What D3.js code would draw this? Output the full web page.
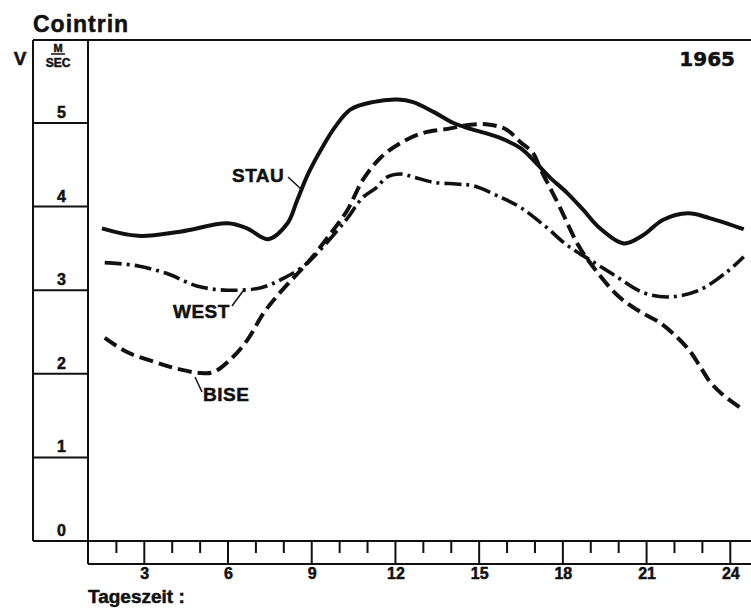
<!DOCTYPE html>
<html>
<head>
<meta charset="utf-8">
<script src="https://cdn.jsdelivr.net/npm/d3@7"></script>
<style>
  body { margin: 0; background: #fff; }
  svg { display: block; }
  text { font-family: "Liberation Sans", Arial, sans-serif; font-weight: bold; fill: #111; stroke: #111; stroke-width: 0.5px; }
</style>
</head>
<body>
<svg id="chart" width="751" height="608"></svg>
<script>
// mean wind speed (m/s) by time of day, Cointrin 1965
const stauHours = [1.5, 2.8, 4.3, 6.0, 6.7, 7.45, 8.15, 8.5, 8.9, 9.4, 9.85, 10.4, 11.2, 12.1, 12.65, 13.4, 14.1, 14.7, 15.7, 16.5, 16.95, 17.55, 18.15, 18.75, 19.35, 20.2, 20.9, 21.6, 22.5, 23.3, 24.5]
const stauValues = [3.74, 3.65, 3.70, 3.80, 3.74, 3.61, 3.80, 4.08, 4.40, 4.71, 4.95, 5.16, 5.25, 5.28, 5.25, 5.13, 5.00, 4.93, 4.83, 4.70, 4.56, 4.35, 4.17, 3.96, 3.74, 3.56, 3.66, 3.84, 3.92, 3.86, 3.73]

const westHours = [1.6, 2.8, 3.9, 4.9, 6.0, 7.2, 8.05, 8.8, 10.2, 10.85, 11.35, 11.7, 12.2, 12.7, 13.4, 14.2, 14.8, 15.8, 16.5, 17.4, 18.2, 19.1, 19.95, 20.9, 21.85, 22.9, 23.9, 24.5]
const westValues = [3.33, 3.29, 3.19, 3.05, 3.00, 3.03, 3.15, 3.31, 3.82, 4.11, 4.23, 4.35, 4.39, 4.35, 4.29, 4.27, 4.25, 4.11, 3.99, 3.76, 3.53, 3.34, 3.16, 2.97, 2.92, 3.00, 3.22, 3.40]

const biseHours = [1.6, 2.4, 3.4, 4.2, 5.0, 5.5, 6.1, 6.7, 7.3, 7.8, 8.4, 8.95, 9.7, 10.3, 10.85, 11.5, 12.2, 13.0, 13.9, 14.7, 15.4, 16.0, 16.5, 16.95, 17.2, 17.55, 17.9, 18.55, 19.1, 20.0, 20.8, 21.5, 22.1, 22.55, 22.95, 23.3, 23.75, 24.4]
const biseValues = [2.43, 2.26, 2.14, 2.06, 2.01, 2.02, 2.17, 2.40, 2.73, 2.94, 3.16, 3.36, 3.68, 3.96, 4.32, 4.59, 4.76, 4.88, 4.93, 4.98, 4.98, 4.92, 4.77, 4.64, 4.46, 4.23, 4.00, 3.55, 3.28, 2.93, 2.74, 2.61, 2.44, 2.28, 2.08, 1.90, 1.75, 1.59]

const speedTicks = [0, 1, 2, 3, 4, 5]
const hourLabels = [3, 6, 9, 12, 15, 18, 21, 24]

const svg = d3.select("#chart")
const boxLeft = 33, plotLeft = 88, plotTop = 40, plotBottom = 541, axisBottom = 564

const x = d3.scaleLinear().domain([1, 24.76]).range([plotLeft, 751])
const y = d3.scaleLinear().domain([0, 5]).range([plotBottom, 123])

// frame: top rule, speed scale box, time scale box
const frame = svg.append("g").attr("stroke", "#111").attr("stroke-width", 2).attr("fill", "none")
frame.append("line").attr("x1", boxLeft).attr("x2", 751).attr("y1", plotTop).attr("y2", plotTop)
frame.append("line").attr("x1", boxLeft).attr("x2", boxLeft).attr("y1", plotTop).attr("y2", plotBottom)
frame.append("line").attr("x1", plotLeft).attr("x2", plotLeft).attr("y1", plotTop).attr("y2", axisBottom)
frame.append("line").attr("x1", boxLeft).attr("x2", 751).attr("y1", plotBottom).attr("y2", plotBottom)
frame.append("line").attr("x1", plotLeft).attr("x2", 751).attr("y1", axisBottom).attr("y2", axisBottom)

// speed scale: ruled cells with the value above each rule
frame.selectAll(".rule")
  .data(speedTicks.filter(d => d > 0))
  .enter()
  .append("line")
  .attr("x1", boxLeft).attr("x2", plotLeft)
  .attr("y1", d => y(d)).attr("y2", d => y(d))

svg.selectAll(".ylab")
  .data(speedTicks)
  .enter()
  .append("text")
  .attr("x", (boxLeft + plotLeft) / 2 + 1)
  .attr("y", d => y(d) - 5)
  .attr("text-anchor", "middle")
  .style("font-size", "16px")
  .text(d => d)

// time scale: hourly ticks, every third one runs the full box height
const xAxis = d3.axisBottom(x)
  .tickValues(d3.range(2, 25))
  .tickSize(12)
  .tickFormat("")
const gx = svg.append("g").attr("transform", "translate(0," + plotBottom + ")").call(xAxis)
gx.select(".domain").remove()
gx.selectAll(".tick line")
  .attr("stroke", "#111")
  .attr("stroke-width", 2)
  .attr("y2", d => d % 3 === 0 ? axisBottom - plotBottom : 12)

svg.selectAll(".xlab")
  .data(hourLabels)
  .enter()
  .append("text")
  .attr("x", d => x(d) + 1)
  .attr("y", 579)
  .attr("text-anchor", "middle")
  .style("font-size", "16px")
  .text(d => d)

// titles and units
svg.append("text").attr("x", 33).attr("y", 32).style("font-size", "23px").style("letter-spacing", "1px").text("Cointrin")
svg.append("text").attr("x", 735).attr("y", 66).attr("text-anchor", "end")
  .style("font-family", "'DejaVu Sans', sans-serif").style("font-size", "20px").text("1965")
svg.append("text").attr("x", 20).attr("y", 65).attr("text-anchor", "middle").style("font-size", "19px").text("V")
svg.append("text").attr("x", 58).attr("y", 52).attr("text-anchor", "middle").style("font-size", "11px").text("M")
svg.append("line").attr("x1", 51).attr("x2", 65).attr("y1", 54).attr("y2", 54).attr("stroke", "#111").attr("stroke-width", 1.5)
svg.append("text").attr("x", 58).attr("y", 67).attr("text-anchor", "middle").style("font-size", "12px").text("SEC")
svg.append("text").attr("x", 88).attr("y", 603).style("font-size", "19px").text("Tageszeit :")

// the three wind situations
const line = d3.line()
  .x(d => x(d[0]))
  .y(d => y(d[1]))
  .curve(d3.curveCatmullRom.alpha(0.5))

const series = [
  { name: "STAU", hours: stauHours, values: stauValues, dash: null, width: 4 },
  { name: "WEST", hours: westHours, values: westValues, dash: "17,5,3,5", width: 3.6 },
  { name: "BISE", hours: biseHours, values: biseValues, dash: "14,6", width: 4 }
]

svg.selectAll(".curve")
  .data(series)
  .enter()
  .append("path")
  .attr("d", s => line(d3.zip(s.hours, s.values)))
  .attr("fill", "none")
  .attr("stroke", "#111")
  .attr("stroke-width", s => s.width)
  .attr("stroke-dasharray", s => s.dash)

// curve names with short leader lines
const labels = [
  { name: "STAU", tx: 232, ty: 182, lx1: 288, ly1: 177, lx2: 301, ly2: 189 },
  { name: "WEST", tx: 173, ty: 318, lx1: 232, ly1: 306, lx2: 243, ly2: 291 },
  { name: "BISE", tx: 203, ty: 401, lx1: 195, ly1: 377, lx2: 202, ly2: 392 }
]

svg.selectAll(".leader")
  .data(labels)
  .enter()
  .append("line")
  .attr("x1", d => d.lx1).attr("y1", d => d.ly1)
  .attr("x2", d => d.lx2).attr("y2", d => d.ly2)
  .attr("stroke", "#111")
  .attr("stroke-width", 1.5)

svg.selectAll(".name")
  .data(labels)
  .enter()
  .append("text")
  .attr("x", d => d.tx)
  .attr("y", d => d.ty)
  .style("font-size", "19px")
  .style("letter-spacing", "0.5px")
  .text(d => d.name)
</script>
</body>
</html>
